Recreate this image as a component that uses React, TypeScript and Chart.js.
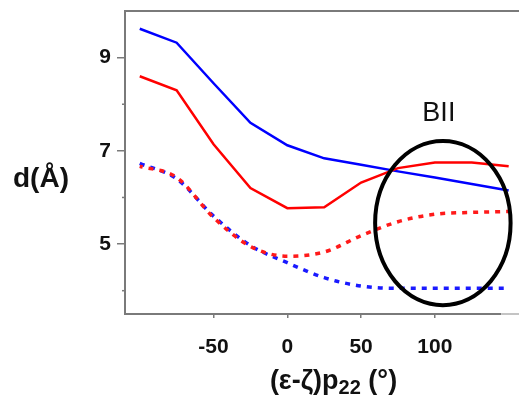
import React, { useEffect, useRef } from "react";
import { Chart, registerables } from "chart.js";

Chart.register(...registerables);

// ---- data ----
const angles = [-100, -75, -50, -25, 0, 25, 50, 75, 100, 125, 150];
const blueSolid = [9.62, 9.32, 8.45, 7.6, 7.12, 6.84, 6.7, 6.56, 6.43, 6.29, 6.15];
const redSolid = [8.6, 8.3, 7.14, 6.2, 5.77, 5.79, 6.32, 6.63, 6.75, 6.75, 6.67];
const redDashed = [6.67, 6.43, 5.57, 4.95, 4.74, 4.83, 5.18, 5.48, 5.64, 5.68, 5.7];
const blueDashed = [6.73, 6.4, 5.6, 4.97, 4.6, 4.28, 4.1, 4.05, 4.05, 4.05, 4.05];

const xTickValues = [-50, 0, 50, 100];
const yTickValues = [4, 5, 6, 7, 8, 9];
const yLabeledTicks = [5, 7, 9];

const xRange = [-110, 157];
const yRange = [3.5, 10];

// annotation (data coordinates)
const bIILabel = "BII";
const bIILabelPos = { x: 102.7, y: 7.81 };
const bIIEllipse = { cx: 105.4, cy: 5.45, rx: 45.9, ry: 1.76 };

const yTitle = "d(Å)";
const xTitleMain = "(ε-ζ)p";
const xTitleSub = "22";
const xTitleTail = " (°)";

const AXIS = "#7a7a7a";
const FONT = "'Liberation Sans', Arial, Helvetica, sans-serif";

const toPts = (ys: number[]) => angles.map((x, i) => ({ x, y: ys[i] }));

const decor = {
  id: "decor",
  afterDatasetsDraw(chart: any) {
    const { ctx, scales } = chart;
    const xs = scales.x;
    const ys = scales.y;
    ctx.save();
    const cx = xs.getPixelForValue(bIIEllipse.cx);
    const cy = ys.getPixelForValue(bIIEllipse.cy);
    const rx = Math.abs(xs.getPixelForValue(bIIEllipse.cx + bIIEllipse.rx) - cx);
    const ry = Math.abs(ys.getPixelForValue(bIIEllipse.cy + bIIEllipse.ry) - cy);
    ctx.beginPath();
    ctx.ellipse(cx, cy, rx, ry, 0, 0, Math.PI * 2);
    ctx.lineWidth = 4;
    ctx.strokeStyle = "#000";
    ctx.stroke();
    ctx.fillStyle = "#111";
    ctx.font = `27px ${FONT}`;
    ctx.textAlign = "center";
    ctx.textBaseline = "middle";
    ctx.fillText(bIILabel, xs.getPixelForValue(bIILabelPos.x), ys.getPixelForValue(bIILabelPos.y));
    ctx.restore();
  },
  afterDraw(chart: any) {
    const { ctx, chartArea, scales, width } = chart;
    const xs = scales.x;
    const ys = scales.y;
    ctx.save();
    ctx.strokeStyle = AXIS;
    ctx.lineWidth = 2;
    ctx.beginPath();
    ctx.moveTo(chartArea.left - 1, chartArea.top);
    ctx.lineTo(width, chartArea.top);
    ctx.stroke();
    const split = xs.getPixelForValue(145);
    ctx.beginPath();
    ctx.moveTo(chartArea.left - 1, chartArea.bottom);
    ctx.lineTo(split, chartArea.bottom);
    ctx.stroke();
    ctx.strokeStyle = "#c4c4c4";
    ctx.beginPath();
    ctx.moveTo(split, chartArea.bottom);
    ctx.lineTo(width, chartArea.bottom);
    ctx.stroke();
    ctx.strokeStyle = AXIS;
    ctx.lineWidth = 1.5;
    yTickValues
      .filter((v) => !yLabeledTicks.includes(v))
      .forEach((v) => {
        const py = ys.getPixelForValue(v);
        ctx.beginPath();
        ctx.moveTo(chartArea.left - 3, py);
        ctx.lineTo(chartArea.left, py);
        ctx.stroke();
      });
    ctx.fillStyle = "#111";
    ctx.font = `bold 28px ${FONT}`;
    ctx.textAlign = "center";
    ctx.textBaseline = "alphabetic";
    ctx.fillText(yTitle, 41, 187);
    const mainFont = `bold 27px ${FONT}`;
    const subFont = `bold 20px ${FONT}`;
    ctx.font = mainFont;
    const w1 = ctx.measureText(xTitleMain).width;
    const w3 = ctx.measureText(xTitleTail).width;
    ctx.font = subFont;
    const w2 = ctx.measureText(xTitleSub).width;
    const total = w1 + w2 + w3;
    let x0 = 333.5 - total / 2;
    ctx.textAlign = "left";
    ctx.font = mainFont;
    ctx.fillText(xTitleMain, x0, 389);
    x0 += w1;
    ctx.font = subFont;
    ctx.fillText(xTitleSub, x0, 394);
    x0 += w2;
    ctx.font = mainFont;
    ctx.fillText(xTitleTail, x0, 389);
    ctx.restore();
  },
};

export default function App() {
  const ref = useRef<HTMLCanvasElement>(null);
  useEffect(() => {
    const chart = new Chart(ref.current!, {
      type: "line",
      data: {
        datasets: [
          {
            label: "red dashed",
            data: toPts(redDashed),
            borderColor: "#ff1a1a",
            borderWidth: 3.5,
            borderDash: [5, 6],
            borderDashOffset: 2,
            cubicInterpolationMode: "monotone",
            pointRadius: 0,
            fill: false,
          },
          {
            label: "blue dashed",
            data: toPts(blueDashed),
            borderColor: "#1a1aff",
            borderWidth: 3.5,
            borderDash: [5, 6],
            cubicInterpolationMode: "monotone",
            pointRadius: 0,
            fill: false,
          },
          {
            label: "red solid",
            data: toPts(redSolid),
            borderColor: "#ff0000",
            borderWidth: 2.5,
            tension: 0,
            pointRadius: 0,
            fill: false,
          },
          {
            label: "blue solid",
            data: toPts(blueSolid),
            borderColor: "#0000ff",
            borderWidth: 2.5,
            tension: 0,
            pointRadius: 0,
            fill: false,
          },
        ],
      },
      options: {
        responsive: false,
        animation: false,
        layout: { padding: { top: 11, right: 0, left: 0, bottom: 0 } },
        plugins: { legend: { display: false }, tooltip: { enabled: false } },
        scales: {
          x: {
            type: "linear",
            min: xRange[0],
            max: xRange[1],
            afterBuildTicks: (s: any) => {
              s.ticks = xTickValues.map((v) => ({ value: v }));
            },
            afterFit: (s: any) => {
              s.height = 86;
              s.paddingLeft = 0;
              s.paddingRight = 0;
            },
            border: { display: false },
            grid: { drawOnChartArea: false, tickLength: 4, tickColor: AXIS, lineWidth: 1.5 },
            ticks: {
              font: { family: FONT, size: 21, weight: "bold" },
              color: "#111",
              padding: 17,
              maxRotation: 0,
              autoSkip: false,
            },
          },
          y: {
            type: "linear",
            min: yRange[0],
            max: yRange[1],
            afterBuildTicks: (s: any) => {
              s.ticks = yTickValues.map((v) => ({ value: v }));
            },
            afterFit: (s: any) => {
              s.width = 125;
              s.paddingTop = 0;
              s.paddingBottom = 0;
            },
            border: { display: true, color: AXIS, width: 2 },
            grid: {
              drawOnChartArea: false,
              tickLength: 8,
              lineWidth: 1.5,
              tickColor: (c: any) =>
                c.tick && yLabeledTicks.includes(c.tick.value) ? AXIS : "rgba(0,0,0,0)",
            },
            ticks: {
              font: { family: FONT, size: 21, weight: "bold" },
              color: "#111",
              padding: 6,
              autoSkip: false,
              callback: (v: any) => (yLabeledTicks.includes(Number(v)) ? String(v) : ""),
            },
          },
        },
      },
      plugins: [decor],
    });
    return () => chart.destroy();
  }, []);
  return (
    <div style={{ position: "absolute", left: 0, top: 0, width: 519, height: 400, background: "#fff" }}>
      <canvas ref={ref} width={519} height={400} style={{ display: "block" }} />
    </div>
  );
}
